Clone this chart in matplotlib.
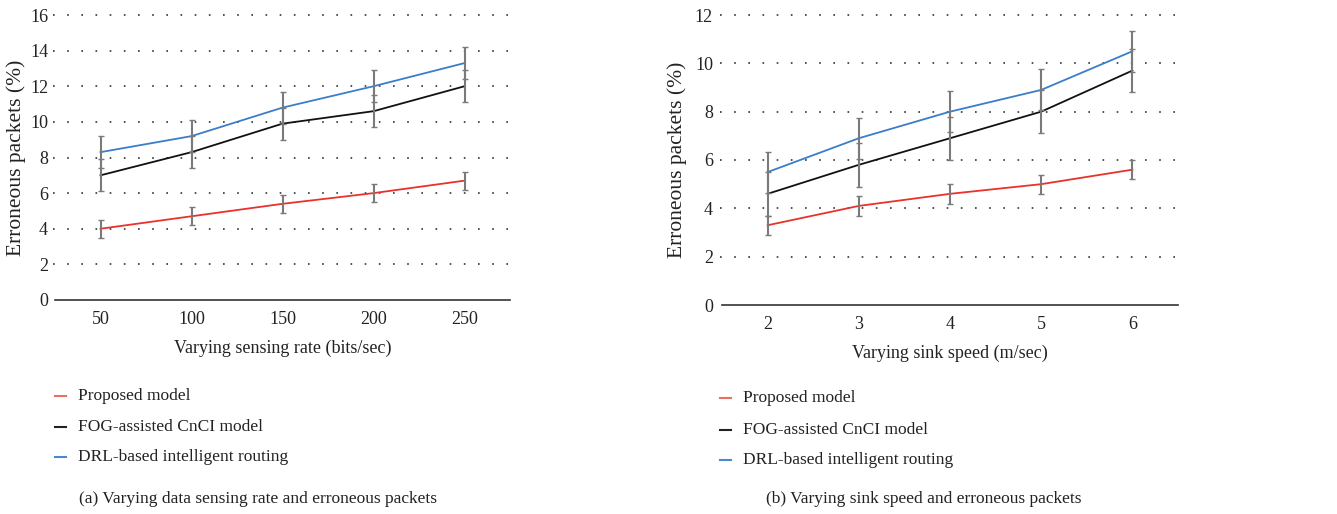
import matplotlib
matplotlib.use("Agg")
import matplotlib.pyplot as plt
from matplotlib.lines import Line2D

plt.rcParams['font.family'] = ['Liberation Serif', 'DejaVu Serif']

# ---- data ----
rate_labels = ["50", "100", "150", "200", "250"]
rate_proposed = [4.0, 4.7, 5.4, 6.0, 6.7]
rate_fog = [7.0, 8.3, 9.9, 10.6, 12.0]
rate_drl = [8.3, 9.2, 10.8, 12.0, 13.3]
rate_err_proposed = [0.5, 0.5, 0.5, 0.5, 0.5]
rate_err_fog = [0.9, 0.9, 0.9, 0.9, 0.9]
rate_err_drl = [0.9, 0.9, 0.9, 0.9, 0.9]

speed_labels = ["2", "3", "4", "5", "6"]
speed_proposed = [3.3, 4.1, 4.6, 5.0, 5.6]
speed_fog = [4.6, 5.8, 6.9, 8.0, 9.7]
speed_drl = [5.5, 6.9, 8.0, 8.9, 10.5]
speed_err_proposed = [0.4, 0.4, 0.4, 0.4, 0.4]
speed_err_fog = [0.9, 0.9, 0.9, 0.9, 0.9]
speed_err_drl = [0.85, 0.85, 0.85, 0.85, 0.85]

series_names = ["Proposed model", "FOG-assisted CnCI model", "DRL-based intelligent routing"]
series_colors = ["#e8322b", "#111111", "#3b7dc8"]
legend_colors = ["#e8705f", "#222222", "#4a88d0"]

FS = 12.5
W, H = 1337, 514
fig = plt.figure(figsize=(W / 100, H / 100), dpi=100)

def px(x0, y0, x1, y1):
    return [x0 / W, 1 - y1 / H, (x1 - x0) / W, (y1 - y0) / H]

def draw(ax, labels, vals, errs, ymax, xlabel, ypad, ylabelpad):
    x = list(range(len(labels)))
    for v, c in zip(vals, series_colors):
        ax.plot(x, v, color=c, lw=1.3, zorder=3)
    for v, e in zip(vals, errs):
        ax.errorbar(x, v, yerr=e, fmt='none', ecolor='#7a7a7a', elinewidth=1.5,
                    capsize=2, capthick=1.0, zorder=4)
    ax.set_xlim(-0.5, len(labels) - 0.5)
    ax.set_ylim(0, ymax)
    ax.set_yticks(range(0, ymax + 1, 2))
    ax.set_xticks(x)
    ax.set_xticklabels(labels)
    ax.tick_params(axis='both', length=0, labelsize=FS + 0.5, colors='#222222')
    ax.tick_params(axis='y', pad=ypad)
    ax.tick_params(axis='x', pad=8)
    for s in ['top', 'right', 'left']:
        ax.spines[s].set_visible(False)
    ax.spines['bottom'].set_color('#333333')
    ax.spines['bottom'].set_linewidth(1.2)
    for yv in range(2, ymax + 1, 2):
        ax.axhline(yv, xmin=-0.005, color='#333333', lw=1.2, ls=(0, (1, 7.5)),
                   zorder=1, clip_on=False)
    ax.set_ylabel("Erroneous packets (%)", fontsize=15.5, color='#222222', labelpad=ylabelpad)
    ax.set_xlabel(xlabel, fontsize=FS + 0.5, color='#222222', labelpad=8)

ax1 = fig.add_axes(px(55, 15, 510, 300))
draw(ax1, rate_labels, [rate_proposed, rate_fog, rate_drl],
     [rate_err_proposed, rate_err_fog, rate_err_drl], 16,
     "Varying sensing rate (bits/sec)", 5, 3)

ax2 = fig.add_axes(px(722, 15, 1178, 305))
draw(ax2, speed_labels, [speed_proposed, speed_fog, speed_drl],
     [speed_err_proposed, speed_err_fog, speed_err_drl], 12,
     "Varying sink speed (m/sec)", 6.5, 6)

def legend(x_mark, x_text, ys):
    for name, c, y in zip(series_names, legend_colors, ys):
        fig.add_artist(Line2D([x_mark / W, (x_mark + 11) / W], [1 - y / H, 1 - y / H],
                              color=c, lw=1.5))
        fig.text(x_text / W, 1 - y / H, name, fontsize=FS, color='#222222',
                 va='center', ha='left')

legend(55, 78, [396, 427, 457])
legend(720, 743, [398, 430, 460])

fig.text(258 / W, 1 - 499 / H, "(a) Varying data sensing rate and erroneous packets",
         fontsize=FS, color='#222222', ha='center', va='center')
fig.text(924 / W, 1 - 499 / H, "(b) Varying sink speed and erroneous packets",
         fontsize=FS, color='#222222', ha='center', va='center')

fig.savefig("out.png", dpi=100)
